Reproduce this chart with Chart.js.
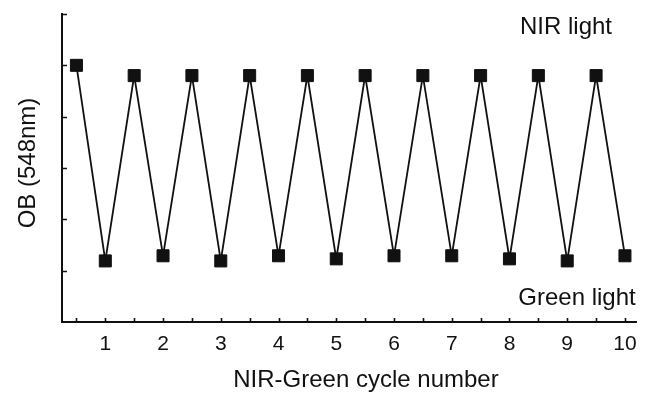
<!DOCTYPE html>
<html>
<head>
<meta charset="utf-8">
<script src="https://cdn.jsdelivr.net/npm/chart.js@4/dist/chart.umd.min.js"></script>
<style>
  html, body { margin: 0; padding: 0; background: #fff; }
  #wrap { width: 646px; height: 394px; }
</style>
</head>
<body>
<div id="wrap"><canvas id="c" width="646" height="394"></canvas></div>
<script>
// ---- data ----
const cycles = [0.5, 1, 1.5, 2, 2.5, 3, 3.5, 4, 4.5, 5, 5.5, 6, 6.5, 7, 7.5, 8, 8.5, 9, 9.5, 10];
const obValues = [5.0, 1.19, 4.8, 1.29, 4.8, 1.19, 4.8, 1.29, 4.8, 1.23, 4.8, 1.29, 4.8, 1.29, 4.8, 1.23, 4.8, 1.19, 4.8, 1.29];
const xTickValues = [0.5, 1, 1.5, 2, 2.5, 3, 3.5, 4, 4.5, 5, 5.5, 6, 6.5, 7, 7.5, 8, 8.5, 9, 9.5, 10];
const xTickLabels = ['', '1', '', '2', '', '3', '', '4', '', '5', '', '6', '', '7', '', '8', '', '9', '', '10'];
const yTickValues = [1, 2, 3, 4, 5, 6];
const xTitle = 'NIR-Green cycle number';
const yTitle = 'OB (548nm)';
const topNote = 'NIR light';
const bottomNote = 'Green light';

const FONT = '"Liberation Sans", Arial, Helvetica, sans-serif';
const INK = '#111';

const decor = {
  id: 'decor',
  afterDraw(chart) {
    const ctx = chart.ctx;
    const xs = chart.scales.x, ys = chart.scales.y;
    const area = chart.chartArea;
    ctx.save();
    ctx.strokeStyle = INK;
    ctx.lineWidth = 1.6;
    // inward tick marks
    ctx.beginPath();
    xs.ticks.forEach(t => {
      const px = Math.round(xs.getPixelForValue(t.value)) + 0.5;
      ctx.moveTo(px, area.bottom);
      ctx.lineTo(px, area.bottom - 4);
    });
    ys.ticks.forEach(t => {
      const py = Math.round(ys.getPixelForValue(t.value)) + 0.5;
      ctx.moveTo(area.left, py);
      ctx.lineTo(area.left + 5, py);
    });
    ctx.stroke();

    ctx.fillStyle = INK;
    ctx.font = '24px ' + FONT;
    ctx.textBaseline = 'alphabetic';
    ctx.textAlign = 'center';
    ctx.fillText(xTitle, 366, 387);
    ctx.fillText(topNote, 566, 34);
    ctx.fillText(bottomNote, 577, 305);
    ctx.translate(35, 163);
    ctx.rotate(-Math.PI / 2);
    ctx.fillText(yTitle, 0, 0);
    ctx.restore();
  }
};

new Chart(document.getElementById('c'), {
  type: 'line',
  data: {
    datasets: [{
      data: cycles.map((c, i) => ({ x: c, y: obValues[i] })),
      borderColor: INK,
      borderWidth: 1.8,
      backgroundColor: INK,
      pointStyle: 'rect',
      pointRadius: 8.5,
      pointHoverRadius: 8.5,
      pointBorderWidth: 1,
      pointBorderColor: INK,
      pointBackgroundColor: INK,
      tension: 0,
      fill: false,
      clip: false
    }]
  },
  options: {
    responsive: false,
    animation: false,
    events: [],
    layout: { padding: { left: 0, right: 6, top: 14, bottom: 0 } },
    plugins: { legend: { display: false }, tooltip: { enabled: false } },
    scales: {
      x: {
        type: 'linear',
        min: 0.25,
        max: 10.2,
        afterBuildTicks: s => { s.ticks = xTickValues.map(v => ({ value: v })); },
        afterFit: s => { s.height = 72; },
        ticks: {
          autoSkip: false,
          maxRotation: 0,
          padding: 2,
          color: INK,
          font: { family: FONT, size: 21 },
          callback: (v, i) => xTickLabels[i]
        },
        grid: { drawOnChartArea: false, drawTicks: true, tickLength: 8, tickColor: 'rgba(0,0,0,0)' },
        border: { display: true, color: INK, width: 2 }
      },
      y: {
        type: 'linear',
        min: 0,
        max: 6,
        afterBuildTicks: s => { s.ticks = yTickValues.map(v => ({ value: v })); },
        afterFit: s => { s.width = 62; },
        ticks: { display: false },
        grid: { drawOnChartArea: false, drawTicks: false },
        border: { display: true, color: INK, width: 2 }
      }
    }
  },
  plugins: [decor]
});
</script>
</body>
</html>
